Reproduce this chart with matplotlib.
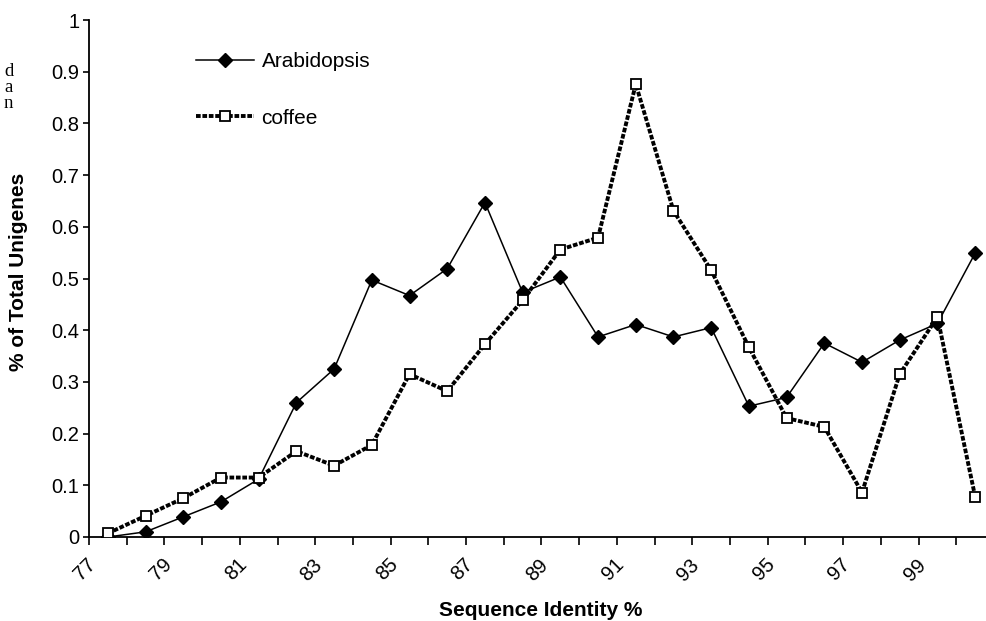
import matplotlib
matplotlib.use("Agg")
import matplotlib.pyplot as plt
import matplotlib.transforms as mtransforms

identity = list(range(77, 101))
arabidopsis = [0.0, 0.01, 0.039, 0.068, 0.112, 0.26, 0.325, 0.497, 0.467, 0.519,
               0.647, 0.473, 0.503, 0.387, 0.411, 0.387, 0.405, 0.253, 0.27, 0.375,
               0.338, 0.381, 0.413, 0.549]
coffee = [0.007, 0.041, 0.075, 0.115, 0.115, 0.166, 0.138, 0.178, 0.315, 0.282,
          0.373, 0.458, 0.556, 0.579, 0.876, 0.631, 0.516, 0.367, 0.23, 0.213,
          0.086, 0.315, 0.4255, 0.078]
tick_labels = [str(v) for v in identity[::2]]
y_ticks = [0, 0.1, 0.2, 0.3, 0.4, 0.5, 0.6, 0.7, 0.8, 0.9, 1.0]

plt.rcParams['font.family'] = ['Liberation Sans', 'DejaVu Sans']

W, H = 986, 621
fig = plt.figure(figsize=(W / 100, H / 100), dpi=100)
ax = fig.add_axes([89 / W, (H - 537) / H, 905 / W, 517 / H])

xs = list(range(len(identity)))
ax.plot(xs, arabidopsis, color='black', lw=1.1, marker='D', markersize=7,
        markerfacecolor='black', markeredgecolor='black', label='Arabidopsis', zorder=3)
ax.plot(xs, coffee, color='black', lw=2.8, linestyle=(0, (1.2, 0.45)), marker='s',
        markersize=7.5, markerfacecolor='white', markeredgecolor='black',
        markeredgewidth=1.3, label='coffee', zorder=4)

ax.set_xlim(-0.5, len(identity) - 0.5)
ax.set_ylim(0, 1)

# major ticks at category boundaries, labels at category centres (every other)
ax.set_xticks([i - 0.5 for i in range(len(identity) + 1)])
ax.set_xticklabels([])
ax.set_xticks(xs[::2], minor=True)
ax.set_xticklabels(tick_labels, minor=True, rotation=45, ha='right', va='top',
                   fontsize=14.5)
ax.tick_params(axis='x', which='major', length=6, width=1.2, direction='out')
ax.tick_params(axis='x', which='minor', length=0, pad=13)
offset = mtransforms.ScaledTranslation(-8 / 100, 0, fig.dpi_scale_trans)
for lab in ax.get_xticklabels(minor=True):
    lab.set_transform(lab.get_transform() + offset)

ax.set_yticks(y_ticks)
ax.set_yticklabels([f"{v:g}" for v in y_ticks], fontsize=14.5)
ax.tick_params(axis='y', length=4, width=1.2, direction='out', pad=3)

for s in ('top', 'right'):
    ax.spines[s].set_visible(False)
for s in ('left', 'bottom'):
    ax.spines[s].set_linewidth(1.3)

fig.text(541 / W, 1 - 611 / H, 'Sequence Identity %', ha='center', va='center',
         fontsize=15, fontweight='bold')
fig.text(19 / W, 1 - 272 / H, '% of Total Unigenes', ha='center', va='center',
         rotation=90, fontsize=15, fontweight='bold')

leg = ax.legend(loc='upper left', bbox_to_anchor=(196 / W, 1 - 52 / H),
                bbox_transform=fig.transFigure, frameon=False, fontsize=15,
                handlelength=2.8, handletextpad=0.35, labelspacing=1.8,
                borderpad=0, borderaxespad=0)

# stray text fragments from the neighbouring page column
for ch, yy in (('d', 72), ('a', 88), ('n', 104)):
    fig.text(4 / W, 1 - yy / H, ch, ha='left', va='center', fontsize=13.5,
             family=['Liberation Serif', 'DejaVu Serif'])

fig.savefig('out.png', dpi=100)
